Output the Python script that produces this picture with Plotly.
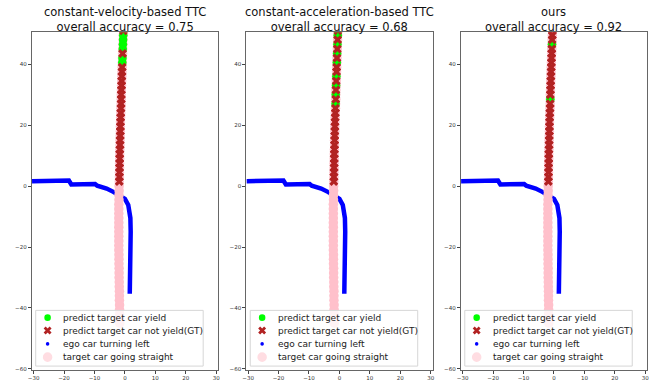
import plotly.graph_objects as go

# ---------------- data ----------------
METHOD_TITLES = ["constant-velocity-based TTC", "constant-acceleration-based TTC", "ours"]
ACCURACY = [0.75, 0.68, 0.92]

# ego car (turning left) trajectory
EGO_X = [-30.5, -25.0, -18.4, -17.6, -13.0, -9.8, -9.1, -7.5, -6.0, -3.8, -2.0, 0.0, 1.1, 1.6, 1.8, 1.9, 1.8, 1.7, 1.6]
EGO_Y = [1.6, 1.7, 1.8, 0.5, 0.6, 0.7, 0.1, -0.3, -0.8, -1.9, -2.9, -4.2, -6.2, -8.5, -10.5, -15.0, -23.6, -30.0, -35.3]

# target car (going straight) trajectory
TARGET_X = [-0.5, -0.55, -0.6, -0.65, -0.7, -0.75, -0.8, -0.85, -0.9, -0.95, -1.0, -1.05,
            -1.1, -1.15, -1.2, -1.2, -1.25, -1.3, -1.35, -1.4, -1.45, -1.5, -1.5, -1.55,
            -1.6, -1.6, -1.65, -1.7, -1.7, -1.75, -1.75, -1.8, -1.8, -1.85,
            -1.9, -1.9, -1.95, -1.95, -2.0, -2.0, -2.0, -2.0, -2.0, -2.0, -2.0, -2.0,
            -2.0, -2.0, -2.0, -1.95, -1.95, -1.95, -1.9, -1.9, -1.9, -1.85, -1.85, -1.8,
            -1.8, -1.8, -1.75, -1.75, -1.75, -1.7, -1.7]
TARGET_Y = [51.0, 49.5, 48.0, 46.5, 45.0, 43.5, 42.0, 40.5, 39.0, 37.5, 36.0, 34.5,
            33.0, 31.5, 30.0, 28.5, 27.0, 25.5, 24.0, 22.5, 21.0, 19.5, 18.0, 16.5,
            15.0, 13.5, 12.0, 10.5, 9.0, 7.5, 6.0, 4.5, 3.0, 1.5,
            0.0, -1.5, -3.0, -4.5, -6.0, -7.5, -9.0, -10.5, -12.0, -13.5, -15.0, -16.5,
            -18.0, -19.5, -21.0, -22.5, -24.0, -25.5, -27.0, -28.5, -30.0, -31.5, -33.0, -34.5,
            -36.0, -37.5, -39.0, -40.5, -42.0, -43.5, -45.0]

# predictions for the first 34 target points (1 = predict yield, 0 = predict not yield)
PRED_CV = [0, 1, 1, 1, 1, 0, 1, 1, 0, 0, 0, 0, 0, 0, 0, 0, 0, 0, 0, 0, 0, 0, 0, 0, 0, 0, 0, 0, 0, 0, 0, 0, 0, 0]
PRED_CA = [0, 1, 0, 1, 0, 1, 0, 1, 0, 0, 1, 0, 1, 0, 1, 0, 1, 0, 0, 0, 0, 0, 0, 0, 0, 0, 0, 0, 0, 0, 0, 0, 0, 0]
PRED_OURS = [0, 0, 0, 1, 0, 0, 0, 0, 0, 0, 0, 0, 0, 0, 0, 1, 0, 0, 0, 0, 0, 0, 0, 0, 0, 0, 0, 0, 0, 0, 0, 0, 0, 0]
PREDICTIONS = [PRED_CV, PRED_CA, PRED_OURS]

LEGEND_LABELS = ["predict target car yield", "predict target car not yield(GT)",
                 "ego car turning left", "target car going straight"]

X_TICKS = [-30, -20, -10, 0, 10, 20, 30]
Y_TICKS = [-60, -40, -20, 0, 20, 40]

# ---------------- style / layout ----------------
W, H = 661, 383
PANEL_LEFT = [28.0, 244.5, 461.0]
PANEL_W = 188.0
TOP_PX, BOT_PX = 32.3, 371.5
GREEN, RED, BLUE, PINK = "#00ff00", "#b22222", "#0000ff", "#ffc0cb"
FONT = "DejaVu Sans"


def px(x):
    return x / W


def py(y):
    return 1 - y / H


fig = go.Figure()
shapes = []
annotations = []

for i in range(3):
    sfx = "" if i == 0 else str(i + 1)
    xa, ya = "x" + sfx, "y" + sfx
    n = len(PREDICTIONS[i])
    px_pred = TARGET_X[:n]
    py_pred = TARGET_Y[:n]
    gx = [x for x, l in zip(px_pred, PREDICTIONS[i]) if l == 1]
    gy = [y for y, l in zip(py_pred, PREDICTIONS[i]) if l == 1]
    rx = [x for x, l in zip(px_pred, PREDICTIONS[i]) if l == 0]
    ry = [y for y, l in zip(py_pred, PREDICTIONS[i]) if l == 0]

    fig.add_trace(go.Scatter(x=EGO_X, y=EGO_Y, mode="lines", xaxis=xa, yaxis=ya,
                             line=dict(color=BLUE, width=4.5), showlegend=False))
    fig.add_trace(go.Scatter(x=TARGET_X, y=TARGET_Y, mode="markers", xaxis=xa, yaxis=ya,
                             marker=dict(color=PINK, size=9.5, line=dict(width=0)), showlegend=False))
    fig.add_trace(go.Scatter(x=gx, y=gy, mode="markers", xaxis=xa, yaxis=ya,
                             marker=dict(color=GREEN, size=8.5, line=dict(width=0)), showlegend=False))
    fig.add_trace(go.Scatter(x=rx, y=ry, mode="markers", xaxis=xa, yaxis=ya,
                             marker=dict(color=RED, size=8, symbol="x", line=dict(width=0)), showlegend=False))

    left = PANEL_LEFT[i]
    dom = [px(left), px(left + PANEL_W)]
    axcommon = dict(showgrid=False, zeroline=False, showline=True, mirror=True,
                    linecolor="#666", linewidth=1, ticks="outside", ticklen=3,
                    tickwidth=0.8, tickcolor="#444",
                    tickfont=dict(family=FONT, size=5.5, color="#333"))
    fig.update_layout(**{
        "xaxis" + sfx: dict(domain=dom, range=[-30.6, 30.6], tickvals=X_TICKS,
                            anchor=ya, **axcommon),
        "yaxis" + sfx: dict(domain=[py(BOT_PX), py(TOP_PX)], range=[-60.2, 50.5],
                            tickvals=Y_TICKS, anchor=xa, **axcommon),
    })

    # title
    annotations.append(dict(
        x=px(left + PANEL_W / 2), y=py(TOP_PX + 4), xref="paper", yref="paper",
        xanchor="center", yanchor="bottom", showarrow=False,
        text=f"{METHOD_TITLES[i]}<br>overall accuracy = {ACCURACY[i]:.2f}",
        font=dict(family=FONT, size=11.5, color="#111")))

    # custom legend box
    shapes.append(dict(type="rect", xref="paper", yref="paper", layer="above",
                       x0=px(left + 4), x1=px(left + 173), y0=py(368), y1=py(312),
                       fillcolor="rgba(255,255,255,0.8)", line=dict(color="#d6d6d6", width=1)))
    rows = [319.3, 332.3, 345.7, 359.0]
    mx = left + 16
    # green circle
    r = 3.3
    shapes.append(dict(type="circle", xref="paper", yref="paper", layer="above",
                       x0=px(mx - r), x1=px(mx + r), y0=py(rows[0] + r), y1=py(rows[0] - r),
                       fillcolor=GREEN, line=dict(width=0)))
    # red X
    r = 3.0
    cy = rows[1]
    shapes.append(dict(type="path", xref="paper", yref="paper", layer="above",
                       path=f"M {px(mx - r)} {py(cy - r)} L {px(mx + r)} {py(cy + r)} "
                            f"M {px(mx - r)} {py(cy + r)} L {px(mx + r)} {py(cy - r)}",
                       line=dict(color=RED, width=2.8)))
    # blue dot
    r = 1.8
    shapes.append(dict(type="circle", xref="paper", yref="paper", layer="above",
                       x0=px(mx - r), x1=px(mx + r), y0=py(rows[2] + r), y1=py(rows[2] - r),
                       fillcolor=BLUE, line=dict(width=0)))
    # pink circle
    r = 4.8
    shapes.append(dict(type="circle", xref="paper", yref="paper", layer="above",
                       x0=px(mx - r), x1=px(mx + r), y0=py(rows[3] + r), y1=py(rows[3] - r),
                       fillcolor="#ffdde2", line=dict(width=0)))
    for lab, ry_ in zip(LEGEND_LABELS, rows):
        annotations.append(dict(x=px(left + 30), y=py(ry_), xref="paper", yref="paper",
                                xanchor="left", yanchor="middle", showarrow=False,
                                text=lab, font=dict(family=FONT, size=9, color="#222")))

fig.update_layout(width=W, height=H, margin=dict(l=0, r=0, t=0, b=0),
                  paper_bgcolor="white", plot_bgcolor="white", showlegend=False,
                  shapes=shapes, annotations=annotations,
                  font=dict(family=FONT))

fig.write_html("out.html", config={"displayModeBar": False},
               post_script="document.body.style.margin='0';document.body.style.overflow='hidden';")
